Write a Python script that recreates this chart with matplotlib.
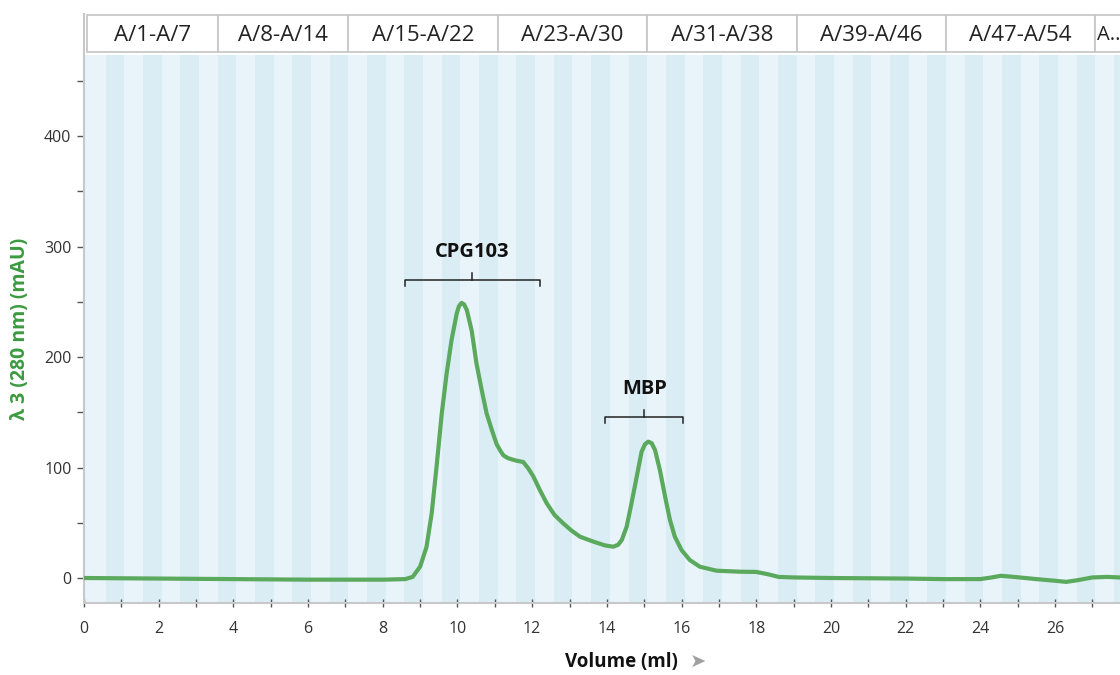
import numpy as np
import matplotlib.pyplot as plt
from matplotlib.patches import Rectangle

plt.rcParams['font.family'] = ['Open Sans', 'DejaVu Sans']

# chromatogram trace (volume ml, absorbance mAU)
volume = [0, 2, 4, 6, 8, 8.6, 8.8, 9.0, 9.17, 9.31, 9.44, 9.58, 9.71, 9.84,
          9.98, 10.04, 10.11, 10.18, 10.25, 10.38, 10.51, 10.65, 10.78, 10.92,
          11.05, 11.15, 11.23, 11.35, 11.49, 11.6, 11.76, 11.9, 12.03, 12.2,
          12.39, 12.6, 12.83, 13.05, 13.28, 13.64, 13.95, 14.17, 14.3, 14.4,
          14.53, 14.66, 14.8, 14.93, 15.02, 15.11, 15.2, 15.29, 15.42, 15.56,
          15.69, 15.82, 16.0, 16.22, 16.49, 16.94, 17.56, 18.0, 18.3, 18.6,
          19.0, 20, 22, 23, 24, 24.3, 24.55, 24.9, 25.5, 26.0, 26.3, 26.6,
          27.0, 27.4, 27.74]
absorbance = [0, -0.5, -1, -1.5, -1.5, -1, 1, 10.3, 28, 58.5, 100.7, 149, 185,
              215, 239.5, 246, 249, 247.5, 242.5, 224, 194, 170, 149, 134,
              121, 115, 111, 108.5, 107, 106, 105, 99, 92, 80, 67.6, 57, 49.5,
              43, 37.4, 32.9, 29.5, 28.3, 30, 34.4, 46.4, 67.6, 91.7, 114.3,
              121, 123.4, 122, 115.8, 97.7, 73.6, 52.5, 37.4, 25.3, 16.3, 10.2,
              6.6, 5.7, 5.5, 3.5, 1, 0.5, 0, -0.5, -1, -1, 0.5, 2, 1, -1, -2.5,
              -3.5, -2, 0.5, 1, 0.5]

# fraction blocks shown in the header
frac_labels = ['A/1-A/7', 'A/8-A/14', 'A/15-A/22', 'A/23-A/30', 'A/31-A/38',
               'A/39-A/46', 'A/47-A/54', 'A..']
frac_first = [1, 8, 15, 23, 31, 39, 47, 55]
frac_last = [7, 14, 22, 30, 38, 46, 54, 58]
frac_start = 0.08
frac_size = 0.5

# peak annotations
peak_names = ['CPG103', 'MBP']
peak_from = [8.6, 13.95]
peak_to = [12.2, 16.05]
peak_level = [270, 146]

xmax = 27.74
green = '#5aa95c'

fig = plt.figure(figsize=(11.2, 6.75), dpi=100)
ax = fig.add_axes([0.075, 0.1067, 0.925, 0.8118])
ax.set_xlim(0, xmax)
ax.set_ylim(-22.6, 473.3)

# alternating fraction stripes
n_frac = int((xmax - frac_start) / frac_size) + 2
ax.axvspan(0, frac_start, color='#e8f4f9', lw=0, zorder=0)
for k in range(n_frac):
    x0 = frac_start + k * frac_size
    c = '#e8f4f9' if k % 2 == 0 else '#daedf5'
    ax.axvspan(x0, x0 + frac_size, color=c, lw=0, zorder=0)

ax.plot(volume, absorbance, color=green, lw=3, solid_capstyle='round',
        solid_joinstyle='round', zorder=3)

for name, a, b, lev in zip(peak_names, peak_from, peak_to, peak_level):
    mid = (a + b) / 2
    ax.plot([a, a, b, b], [lev - 6, lev, lev, lev - 6], color='#222222', lw=1.1)
    ax.plot([mid, mid], [lev, lev + 6], color='#222222', lw=1.1)
    ax.text(mid, lev + 16, name, ha='center', va='bottom', fontsize=14.5,
            fontweight='bold', color='#111111')

for s in ['top', 'right']:
    ax.spines[s].set_visible(False)
for s in ['left', 'bottom']:
    ax.spines[s].set_color('#c8c8c8')
    ax.spines[s].set_linewidth(1.5)

ax.set_xticks(np.arange(0, 27, 2))
ax.set_xticks(np.arange(0, 28, 1), minor=True)
ax.set_yticks([0, 100, 200, 300, 400])
ax.set_yticks(np.arange(50, 460, 100), minor=True)
ax.tick_params(axis='x', which='both', direction='inout', length=6, width=1,
               color='#555555', labelsize=11.5, labelcolor='#333333', pad=10)
ax.tick_params(axis='y', which='both', direction='out', length=5, width=1,
               color='#555555', labelsize=11.5, labelcolor='#333333', pad=4)

ax.set_ylabel('λ 3 (280 nm) (mAU)', color='#3b9a40', fontsize=14,
              fontweight='bold', labelpad=10)
fig.text(0.555, 0.0193, 'Volume (ml)', fontsize=13.5, fontweight='bold',
         color='#111111', ha='center', va='center')
fig.text(0.623, 0.0193, '➤', color='#a0a0a0', fontsize=14, ha='center',
         va='center', family='DejaVu Sans')

# header with fraction blocks
hx = fig.add_axes([0.075, 0.9215, 0.925, 0.0578])
hx.set_xlim(0, xmax)
hx.set_ylim(0, 1)
hx.axis('off')
hx.plot([0, 0], [0, 1], color='#c8c8c8', lw=1.5, clip_on=False)
for lab, f0, f1 in zip(frac_labels, frac_first, frac_last):
    x0 = frac_start + (f0 - 1) * frac_size
    x1 = frac_start + f1 * frac_size
    hx.add_patch(Rectangle((x0, 0.02), x1 - x0, 0.96, facecolor='white',
                           edgecolor='#c8c8c8', lw=1.3))
    if lab.endswith('..'):
        hx.text(x0 + 0.05, 0.45, lab, ha='left', va='center', fontsize=14.5,
                color='#222222')
    else:
        hx.text((x0 + x1) / 2, 0.45, lab, ha='center', va='center',
                fontsize=16, color='#222222')

fig.savefig('out.png', dpi=100)
